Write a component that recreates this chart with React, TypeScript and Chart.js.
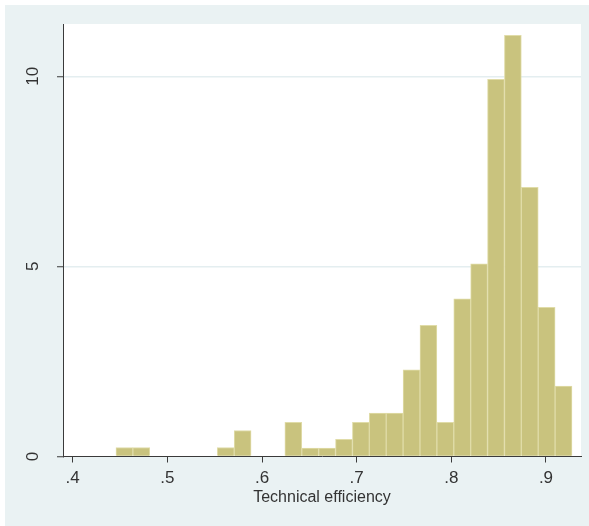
import React, { useEffect, useRef } from "react";
import { Chart, registerables } from "chart.js";

Chart.register(...registerables);

// Histogram of technical efficiency (density scale)
const binStart = 0.4457;
const binWidth = 0.017844;
const density = [
  0.237, 0.237, 0, 0, 0, 0, 0.237, 0.684, 0, 0,
  0.9, 0.22, 0.22, 0.45, 0.9, 1.14, 1.14, 2.28, 3.45, 0.9,
  4.15, 5.07, 9.92, 11.08, 7.08, 3.92, 1.85,
];
const xTicks = [0.4, 0.5, 0.6, 0.7, 0.8, 0.9];
const xTickLabels = [".4", ".5", ".6", ".7", ".8", ".9"];
const yTicks = [0, 5, 10];
const yTickLabels = ["0", "5", "10"];
const xTitle = "Technical efficiency";

const BG = "#EAF2F3";
const TEXT = "#333333";
const AXIS = "#3a3a3a";

export default function App() {
  const ref = useRef<HTMLCanvasElement | null>(null);

  useEffect(() => {
    if (!ref.current) return;
    const points = density.map((d, i) => ({ x: binStart + binWidth * (i + 0.5), y: d }));
    const chart = new Chart(ref.current, {
      type: "bar",
      data: {
        datasets: [
          {
            data: points as any,
            backgroundColor: "#C9C37E",
            borderColor: "#E0DCA8",
            borderWidth: 1,
            barPercentage: 1,
            categoryPercentage: 1,
          },
        ],
      },
      options: {
        animation: false,
        responsive: false,
        maintainAspectRatio: false,
        parsing: { xAxisKey: "x", yAxisKey: "y" } as any,
        layout: { padding: { top: 19, right: 8, bottom: 0, left: 0 } },
        plugins: { legend: { display: false }, tooltip: { enabled: false } },
        scales: {
          x: {
            type: "linear",
            min: 0.38975,
            max: 0.937,
            offset: false,
            z: 1,
            afterBuildTicks: (s: any) => {
              s.ticks = xTicks.map((v) => ({ value: v }));
            },
            afterFit: (s: any) => {
              s.height = 69.5;
              s.paddingLeft = 0;
              s.paddingRight = 0;
            },
            grid: {
              offset: false,
              drawOnChartArea: false,
              drawTicks: true,
              tickLength: 6,
              tickColor: AXIS,
              tickWidth: 1,
            },
            border: { display: true, color: AXIS, width: 1 },
            ticks: {
              autoSkip: false,
              maxRotation: 0,
              minRotation: 0,
              padding: 6,
              color: TEXT,
              font: { family: '"Liberation Sans", Arial, sans-serif', size: 17 },
              callback: (v: any) => {
                const i = xTicks.findIndex((t) => Math.abs(t - Number(v)) < 1e-9);
                return i >= 0 ? xTickLabels[i] : "";
              },
            },
            title: {
              display: true,
              text: xTitle,
              color: TEXT,
              font: { family: '"Liberation Sans", Arial, sans-serif', size: 16 },
              padding: { top: 0, bottom: 19 },
            },
          },
          y: {
            type: "linear",
            min: 0,
            max: 11.375,
            afterBuildTicks: (s: any) => {
              s.ticks = yTicks.map((v) => ({ value: v }));
            },
            afterFit: (s: any) => {
              s.width = 58;
              s.paddingTop = 0;
              s.paddingBottom = 0;
            },
            grid: {
              color: (ctx: any) => (ctx.tick && ctx.tick.value === 0 ? "rgba(0,0,0,0)" : "#E4EEF0"),
              lineWidth: 1.5,
              drawTicks: true,
              tickLength: 6,
              tickColor: AXIS,
              tickWidth: 1,
            },
            border: { display: true, color: AXIS, width: 1 },
            ticks: {
              autoSkip: false,
              minRotation: 90,
              maxRotation: 90,
              crossAlign: "center",
              padding: 14.5,
              color: TEXT,
              font: { family: '"Liberation Sans", Arial, sans-serif', size: 17 },
              callback: (v: any) => {
                const i = yTicks.findIndex((t) => Math.abs(t - Number(v)) < 1e-9);
                return i >= 0 ? yTickLabels[i] : "";
              },
            },
          },
        },
      },
      plugins: [
        {
          id: "plotBg",
          beforeDraw: (c: any) => {
            const { ctx, chartArea } = c;
            ctx.save();
            ctx.fillStyle = "#FFFFFF";
            ctx.fillRect(chartArea.left, chartArea.top, chartArea.right - chartArea.left, chartArea.bottom - chartArea.top);
            ctx.restore();
          },
        },
      ],
    });
    return () => chart.destroy();
  }, []);

  return (
    <div style={{ position: "relative", width: 589, height: 526, background: "#FFFFFF" }}>
      <style>{`body{margin:0;}`}</style>
      <div style={{ position: "absolute", left: 5, top: 5, width: 584, height: 521, background: BG }}>
        <canvas ref={ref} width={584} height={521} style={{ display: "block", width: 584, height: 521 }} />
      </div>
    </div>
  );
}
